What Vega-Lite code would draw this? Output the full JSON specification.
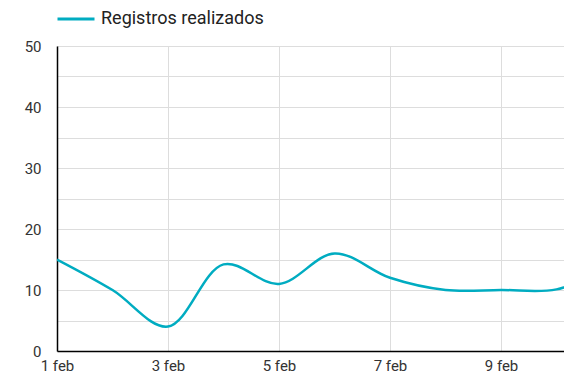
{
  "$schema": "https://vega.github.io/schema/vega-lite/v6.json",
  "width": 507,
  "height": 305,
  "autosize": {"type": "none"},
  "padding": {"left": 57, "top": 46, "right": 0, "bottom": 39},
  "background": "white",
  "config": {
    "view": {"stroke": null},
    "font": "Roboto"
  },
  "data": {
    "values": [
      {"dia": 1, "serie": "Registros realizados", "registros": 15},
      {"dia": 2, "serie": "Registros realizados", "registros": 10},
      {"dia": 3, "serie": "Registros realizados", "registros": 4},
      {"dia": 4, "serie": "Registros realizados", "registros": 14.2},
      {"dia": 5, "serie": "Registros realizados", "registros": 11},
      {"dia": 6, "serie": "Registros realizados", "registros": 16},
      {"dia": 7, "serie": "Registros realizados", "registros": 12},
      {"dia": 8, "serie": "Registros realizados", "registros": 10},
      {"dia": 9, "serie": "Registros realizados", "registros": 10},
      {"dia": 10, "serie": "Registros realizados", "registros": 10.1},
      {"dia": 11, "serie": "Registros realizados", "registros": 14}
    ]
  },
  "mark": {"type": "line", "interpolate": "catmull-rom", "strokeWidth": 2.5, "clip": true},
  "encoding": {
    "x": {
      "field": "dia",
      "type": "quantitative",
      "scale": {"domain": [1, 10.135], "nice": false, "zero": false},
      "axis": {
        "title": null,
        "values": [1, 3, 5, 7, 9],
        "labelExpr": "datum.value + ' feb'",
        "labelFont": "Roboto",
        "labelFontSize": 15,
        "labelColor": "#333333",
        "labelPadding": 7,
        "ticks": false,
        "domainColor": "#000000",
        "domainWidth": 1.5,
        "gridColor": "#dddddd",
        "gridWidth": 1,
        "labelFlush": false,
        "labelOverlap": false
      }
    },
    "y": {
      "field": "registros",
      "type": "quantitative",
      "scale": {"domain": [0, 50], "nice": false},
      "axis": {
        "title": null,
        "values": [0, 5, 10, 15, 20, 25, 30, 35, 40, 45, 50],
        "labelExpr": "datum.value % 10 == 0 ? datum.label : ''",
        "labelFont": "Roboto",
        "labelFontSize": 15,
        "labelColor": "#333333",
        "labelPadding": 16,
        "ticks": false,
        "domainColor": "#000000",
        "domainWidth": 1.5,
        "gridColor": "#dddddd",
        "gridWidth": 1,
        "labelOverlap": false
      }
    },
    "color": {
      "field": "serie",
      "type": "nominal",
      "scale": {"range": ["#00acc1"]},
      "legend": {
        "title": null,
        "orient": "none",
        "legendX": -1,
        "legendY": -47,
        "symbolType": "stroke",
        "symbolSize": 1369,
        "symbolStrokeWidth": 3,
        "labelFont": "Roboto",
        "labelFontSize": 18,
        "labelLimit": 0,
        "labelColor": "#222222",
        "labelOffset": 5
      }
    }
  }
}
